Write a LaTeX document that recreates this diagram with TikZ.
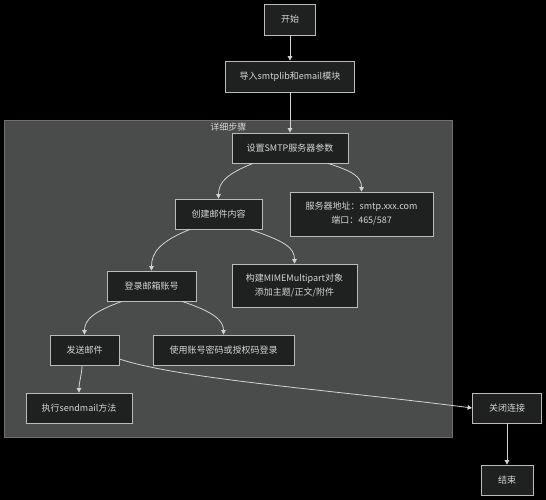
\documentclass[tikz,border=0pt]{standalone}
\usepackage{fontspec}
\setmainfont{Noto Sans CJK SC}
\usetikzlibrary{arrows.meta}
\definecolor{nodefill}{HTML}{1F2020}
\definecolor{nodeborder}{HTML}{BBBBBB}
\definecolor{txt}{HTML}{D6D6D6}
\definecolor{edgecol}{HTML}{D3D3D3}
\definecolor{clusterfill}{HTML}{4A4B4B}
\definecolor{clusterborder}{HTML}{6E7070}
\tikzset{
  box/.style={draw=nodeborder, fill=nodefill, line width=0.8pt, text=txt,
    inner sep=0pt, align=center, font=\fontsize{9}{14}\selectfont},
  conn/.style={draw=edgecol, line width=0.8pt, -{Triangle[length=4.5pt,width=4.5pt]}},
}
\begin{document}
\begin{tikzpicture}[x=1pt,y=-1pt]
\useasboundingbox (0,0) rectangle (546,500);
\fill[black] (0,0) rectangle (546,500);
% cluster
\draw[fill=clusterfill, draw=clusterborder, line width=0.6pt] (4,120) rectangle (452.5,437);
\node[text=txt, font=\fontsize{9}{11}\selectfont] (clab) at (228.3,127.5) {详细步骤};
% nodes
\node[box, minimum width=51pt, minimum height=31pt] (start) at (290,19.5) {开始};
\node[box, minimum width=129pt, minimum height=31pt] (imp) at (290,76.5) {导入smtplib和email模块};
\node[box, minimum width=116pt, minimum height=30pt] (smtp) at (290,148) {设置SMTP服务器参数};
\node[box, minimum width=87pt, minimum height=30pt] (create) at (218.5,214) {创建邮件内容};
\node[box, minimum width=143pt, minimum height=44pt] (server) at (361.5,214) {服务器地址：smtp.xxx.com\\端口：465/587};
\node[box, minimum width=89pt, minimum height=30pt] (login) at (151.5,286) {登录邮箱账号};
\node[box, minimum width=125pt, minimum height=43pt] (build) at (294.5,285.5) {构建MIMEMultipart对象\\添加主题/正文/附件};
\node[box, minimum width=69pt, minimum height=30pt] (send) at (84.5,350) {发送邮件};
\node[box, minimum width=141pt, minimum height=30pt] (use) at (223.5,350) {使用账号密码或授权码登录};
\node[box, minimum width=106pt, minimum height=30pt] (exec) at (79,408) {执行sendmail方法};
\node[box, minimum width=69pt, minimum height=30pt] (close) at (507,408) {关闭连接};
\node[box, minimum width=52pt, minimum height=30pt] (end) at (507,480) {结束};
% edges
\draw[conn] (start.south) -- (imp.north);
\draw[conn] (imp.south) -- (smtp.north);
\draw[conn] ([xshift=-37pt]smtp.south) .. controls +(-25,10) and +(0,-17) .. (create.north);
\draw[conn] ([xshift=38pt]smtp.south) .. controls +(25,8) and +(0,-15) .. (server.north);
\draw[conn] ([xshift=-28.5pt]create.south) .. controls +(-30,12) and +(0,-18) .. (login.north);
\draw[conn] ([xshift=31.5pt]create.south) .. controls +(35,12) and +(0,-16) .. (build.north);
\draw[conn] ([xshift=-29.5pt]login.south) .. controls +(-28,10) and +(0,-15) .. (send.north);
\draw[conn] ([xshift=30.5pt]login.south) .. controls +(30,10) and +(0,-15) .. (use.north);
\draw[conn] ([xshift=-2.5pt]send.south) .. controls +(0,8) and +(0,-10) .. (exec.north);
\draw[conn] ([yshift=-9pt]send.east) .. controls +(60,20) and +(-140,-18) .. (close.west);
\draw[conn] (close.south) -- (end.north);
\end{tikzpicture}
\end{document}
